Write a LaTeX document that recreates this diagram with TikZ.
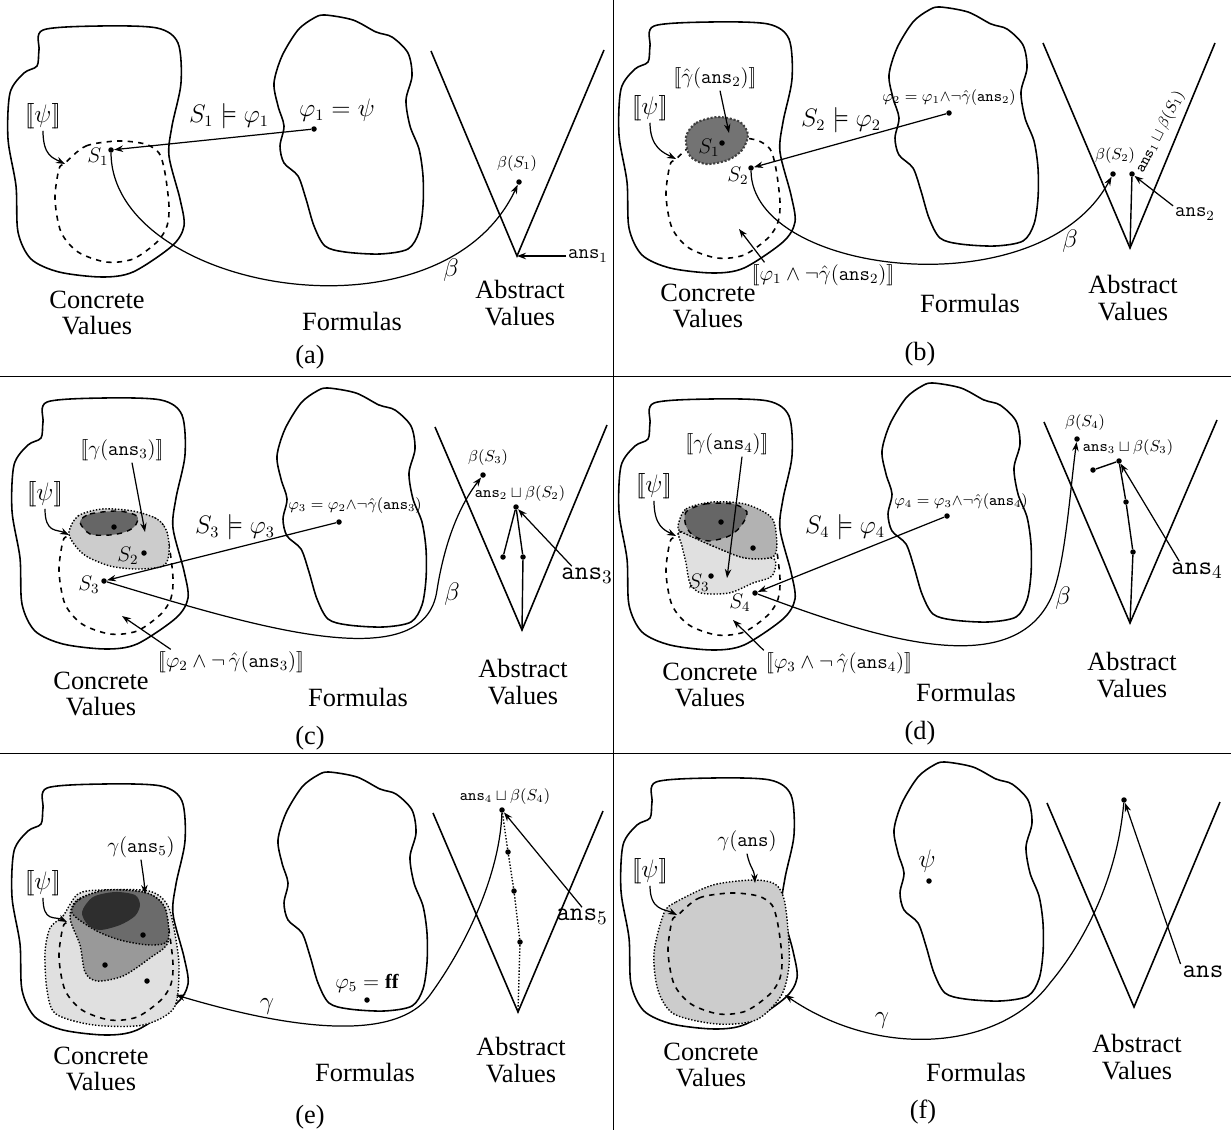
\documentclass[tikz,border=0pt]{standalone}
\usepackage{amsmath}
\usepackage{fontspec}
\setmainfont{Liberation Serif}
\usetikzlibrary{arrows.meta}
\newcommand{\sem}[1]{[\![#1]\!]}
\newcommand{\ans}{\texttt{ans}}
\newcommand{\concreteblob}{plot[smooth cycle] coordinates {(43,30) (100,26) (157,28) (178,43) (181,83) (172,126) (169,156) (180,199) (184,226) (172,246) (133,272) (102,277) (59,272) (31,259) (18,232) (16,186) (8,139) (10,93) (24,73) (37,66) (39,50)}}
\newcommand{\formulablob}{plot[smooth cycle] coordinates {(325,15) (353,20) (376,32) (392,37) (408,53) (412,76) (406,100) (410,126) (419,149) (423,176) (423,206) (419,232) (408,249) (380,254) (345,252) (325,246) (314,226) (306,199) (298,176) (284,163) (280,146) (284,126) (278,106) (274,83) (282,56) (298,30) (314,18)}}
\newcommand{\psiblob}{plot[smooth cycle] coordinates {(65,163) (86,146) (118,141) (145,144) (159,153) (165,173) (169,206) (167,226) (157,242) (133,259) (106,262) (78,252) (61,232) (55,199) (59,169)}}
\begin{document}
\begin{tikzpicture}[x=0.2mm, y=-0.2mm, captext/.style={font=\fontsize{15}{15}\selectfont, align=center},
  biglab/.style={font=\fontsize{13.5}{14}\selectfont, inner sep=1pt}, midlab/.style={font=\fontsize{11.5}{12}\selectfont, inner sep=1pt},
  anslab/.style={font=\fontsize{15}{15}\selectfont, inner sep=1pt}, smalllab/.style={font=\fontsize{9}{10}\selectfont, inner sep=1pt},
  greeklab/.style={font=\fontsize{15}{15}\selectfont, inner sep=1pt}, spot/.style={circle, fill, inner sep=0pt, minimum size=1.1mm},
  outline/.style={line width=0.9pt}, region/.style={draw, densely dotted, line width=0.8pt},
  arr/.style={-{Stealth[length=1.8mm, width=1.3mm]}, line width=0.7pt}]
\useasboundingbox (0,0) rectangle (1231,1130);
\draw[line width=0.5pt] (613,0) -- (613,1130);
\draw[line width=0.5pt] (0,376) -- (1231,376);
\draw[line width=0.5pt] (0,753) -- (1231,753);

\draw[outline] \concreteblob;
\draw[outline, dashed] \psiblob;
\draw[outline] \formulablob;
\coordinate (aL) at (431,51); \coordinate (aB) at (517,256); \coordinate (aR) at (604,50);
\draw[outline] (aL) -- (aB) -- (aR);
\node[biglab] (aPsi) at (43,116) {$\sem{\psi}$};
\coordinate (aPsiTip) at (65,164);
\draw[arr] (aPsi.south) .. controls +(0,25) and +(-12,-6) .. (aPsiTip);
\node[spot] (aS1) at (111,150) {};
\node[midlab] (aS1lab) at (98,157) {$S_1$};
\node[spot] (aP1) at (314,129) {};
\node[biglab] (aP1lab) at (337,110) {$\varphi_1 = \psi$};
\node[biglab] (aSat) at (229,116) {$S_1 \models \varphi_1$};
\draw[arr] (aP1) -- (aS1);
\node[spot] (aBS) at (519,182) {};
\node[smalllab] (aBSlab) at (517,164) {$\beta(S_1)$};
\draw[arr] (aS1) .. controls (112,290) and (440,350) .. (aBS);
\node[greeklab] (aBeta) at (451,270) {$\beta$};
\node[midlab] (aAns) at (588,256) {$\ans_1$};
\draw[arr] (aAns) -- (aB);
\node[captext] (aConc) at (97,313) {Concrete\\Values};
\node[captext] (aForm) at (352,321) {Formulas};
\node[captext] (aAbs) at (520,303) {Abstract\\Values};
\node[captext] (aCap) at (310,357) {(a)};

\begin{scope}[shift={(611,-4)}]
\draw[outline] \concreteblob;
\draw[outline, dashed] \psiblob;
\end{scope}
\begin{scope}[shift={(615,-8)}]
\draw[outline] \formulablob;
\end{scope}
\coordinate (bL) at (1043,43); \coordinate (bB) at (1130,248); \coordinate (bR) at (1215,43);
\draw[outline] (bL) -- (bB) -- (bR);
\filldraw[fill=black!55, draw=black!75, densely dotted, line width=1.2pt] plot[smooth cycle] coordinates {(686,137) (696,123) (718,117) (740,122) (748,135) (742,150) (728,160) (706,164) (690,156)};
\node[midlab] (bGam) at (715,78) {$\sem{\hat\gamma(\ans_2)}$};
\coordinate (bGamTip) at (729,133);
\draw[arr] ([xshift=1mm]bGam.south) -- (bGamTip);
\node[biglab] (bPsi) at (650,108) {$\sem{\psi}$};
\coordinate (bPsiTip) at (676,159);
\draw[arr] (bPsi.south) .. controls +(0,25) and +(-12,-6) .. (bPsiTip);
\node[spot] (bS1) at (722,143) {};
\node[midlab] (bS1lab) at (709,148) {$S_1$};
\node[spot] (bS2) at (751,168) {};
\node[midlab] (bS2lab) at (738,176) {$S_2$};
\node[smalllab] (bP2lab) at (949,98) {$\varphi_2 = \varphi_1{\wedge}\neg\hat\gamma(\ans_2)$};
\node[spot] (bP2) at (949,113) {};
\node[biglab] (bSat) at (841,120) {$S_2 \models \varphi_2$};
\draw[arr] (bP2) -- (bS2);
\node[midlab] (bNeg) at (823,275) {$\sem{\varphi_1 \wedge \neg\hat\gamma(\ans_2)}$};
\coordinate (bNegTip) at (739,229);
\draw[arr] ([xshift=3mm]bNeg.north west) -- (bNegTip);
\node[spot] (bBS) at (1113,174) {};
\node[smalllab] (bBSlab) at (1115,156) {$\beta(S_2)$};
\draw[arr] (bS2) .. controls (752,275) and (1040,310) .. (bBS);
\node[greeklab] (bBeta) at (1070,241) {$\beta$};
\node[spot] (bJoin) at (1132,174) {};
\draw[line width=0.8pt] (bB) -- (bJoin);
\node[smalllab, rotate=63] (bJoinLab) at (1160,132) {$\ans_1 \sqcup \beta(S_1)$};
\node[midlab] (bAns) at (1195,214) {$\ans_2$};
\draw[arr] (bAns.north west) -- (bJoin);
\node[captext] (bConc) at (708,306) {Concrete\\Values};
\node[captext] (bForm) at (970,303) {Formulas};
\node[captext] (bAbs) at (1133,298) {Abstract\\Values};
\node[captext] (bCap) at (920,354) {(b)};

\begin{scope}[shift={(4,372)}]
\draw[outline] \concreteblob;
\draw[outline, dashed] \psiblob;
\end{scope}
\begin{scope}[shift={(3,373)}]
\draw[outline] \formulablob;
\end{scope}
\coordinate (cL) at (435,427); \coordinate (cB) at (522,630); \coordinate (cR) at (607,425);
\draw[outline] (cL) -- (cB) -- (cR);
\filldraw[region, fill=black!20] plot[smooth cycle] coordinates {(69,532) (78,516) (102,509) (133,511) (157,519) (167,532) (169,553) (163,566) (137,569) (110,566) (86,556) (74,544)};
\filldraw[fill=black!60, draw, dashed, line width=0.8pt] plot[smooth cycle] coordinates {(80,522) (90,514) (118,511) (137,516) (135,526) (125,532) (110,535) (90,534)};
\node[spot] (cG1) at (114,527) {};
\node[spot] (cS2) at (144,553) {};
\node[midlab] (cS2lab) at (128,556) {$S_2$};
\node[spot] (cS3) at (104,581) {};
\node[midlab] (cS3lab) at (89,585) {$S_3$};
\node[midlab] (cGam) at (122,450) {$\sem{\gamma(\ans_3)}$};
\coordinate (cGamTip) at (145,532);
\draw[arr] ([xshift=2mm]cGam.south) -- (cGamTip);
\node[biglab] (cPsi) at (45,494) {$\sem{\psi}$};
\coordinate (cPsiTip) at (69,535);
\draw[arr] (cPsi.south) .. controls +(0,25) and +(-12,-6) .. (cPsiTip);
\node[smalllab] (cP3lab) at (355,506) {$\varphi_3 = \varphi_2{\wedge}\neg\hat\gamma(\ans_3)$};
\node[spot] (cP3) at (339,522) {};
\node[biglab] (cSat) at (235,527) {$S_3 \models \varphi_3$};
\draw[arr] (cP3) -- (cS3);
\node[midlab] (cNeg) at (231,662) {$\sem{\varphi_2 \wedge \neg\,\hat\gamma(\ans_3)}$};
\coordinate (cNegTip) at (122,616);
\draw[arr] ([xshift=3mm]cNeg.north west) -- (cNegTip);
\node[spot] (cBS) at (483,475) {};
\node[smalllab] (cBSlab) at (488,458) {$\beta(S_3)$};
\coordinate (cBetaMid) at (437,590);
\draw[arr] (cS3) .. controls (250,625) and (425,680) .. (cBetaMid) .. controls (445,540) and (460,505) .. (cBS);
\node[greeklab] (cBeta) at (452,594) {$\beta$};
\node[spot] (cJoin) at (516,507) {};
\node[smalllab] (cJoinLab) at (520,494) {$\ans_2 \sqcup \beta(S_2)$};
\node[spot] (cD1) at (503,557) {};
\node[spot] (cD2) at (523,557) {};
\draw[line width=0.8pt] (cJoin) -- (cD1);
\draw[line width=0.8pt] (cJoin) -- (cD2) -- (cB);
\node[anslab] (cAns) at (587,576) {$\ans_3$};
\draw[arr] ([xshift=2.5mm]cAns.north west) -- (cJoin);
\node[captext] (cConc) at (101,694) {Concrete\\Values};
\node[captext] (cForm) at (358,697) {Formulas};
\node[captext] (cAbs) at (523,682) {Abstract\\Values};
\node[captext] (cCap) at (310,738) {(c)};

\begin{scope}[shift={(611,373)}]
\draw[outline] \concreteblob;
\draw[outline, dashed] \psiblob;
\end{scope}
\begin{scope}[shift={(608,368)}]
\draw[outline] \formulablob;
\end{scope}
\coordinate (dL) at (1044,422); \coordinate (dB) at (1130,623); \coordinate (dR) at (1217,420);
\draw[outline] (dL) -- (dB) -- (dR);
\filldraw[region, fill=black!12] plot[smooth cycle] coordinates {(680,532) (713,546) (745,558) (774,559) (772,576) (753,583) (729,593) (701,593) (690,583) (686,563) (682,546)};
\filldraw[region, fill=black!30] plot[smooth cycle] coordinates {(678,526) (686,509) (713,502) (745,504) (770,516) (776,532) (774,556) (745,558) (713,546) (682,532)};
\filldraw[fill=black!60, draw, dashed, line width=0.8pt] plot[smooth cycle] coordinates {(686,512) (705,504) (733,504) (747,512) (741,526) (729,536) (709,541) (694,536) (686,526)};
\node[spot] (dG1) at (721,522) {};
\node[spot] (dG2) at (753,548) {};
\node[spot] (dS3) at (711,576) {};
\node[midlab] (dS3lab) at (699,583) {$S_3$};
\node[spot] (dS4) at (755,593) {};
\node[midlab] (dS4lab) at (740,603) {$S_4$};
\node[midlab] (dGam) at (727,444) {$\sem{\gamma(\ans_4)}$};
\coordinate (dGamTip) at (727,578);
\draw[arr] ([xshift=3mm]dGam.south) -- (dGamTip);
\node[biglab] (dPsi) at (654,486) {$\sem{\psi}$};
\coordinate (dPsiTip) at (676,536);
\draw[arr] (dPsi.south) .. controls +(0,25) and +(-12,-6) .. (dPsiTip);
\node[smalllab] (dP4lab) at (961,502) {$\varphi_4 = \varphi_3{\wedge}\neg\hat\gamma(\ans_4)$};
\node[spot] (dP4) at (947,516) {};
\node[biglab] (dSat) at (845,527) {$S_4 \models \varphi_4$};
\draw[arr] (dP4) -- (dS4);
\node[midlab] (dNeg) at (839,663) {$\sem{\varphi_3 \wedge \neg\,\hat\gamma(\ans_4)}$};
\coordinate (dNegTip) at (733,620);
\draw[arr] (dNeg.north west) -- (dNegTip);
\node[spot] (dBS) at (1077,439) {};
\node[smalllab] (dBSlab) at (1085,423) {$\beta(S_4)$};
\coordinate (dBetaMid) at (1050,600);
\draw[arr] (dS4) .. controls (880,640) and (1010,680) .. (dBetaMid) .. controls (1065,570) and (1070,490) .. (dBS);
\node[greeklab] (dBeta) at (1063,598) {$\beta$};
\node[spot] (dJoin) at (1119,461) {};
\node[smalllab] (dJoinLab) at (1128,448) {$\ans_3 \sqcup \beta(S_3)$};
\node[spot] (dLeft) at (1093,470) {};
\node[spot] (dD1) at (1126,502) {};
\node[spot] (dD2) at (1133,552) {};
\draw[line width=0.8pt] (dLeft) -- (dJoin);
\draw[line width=0.8pt] (dB) -- (dD2) -- (dD1) -- (dJoin);
\node[anslab] (dAns) at (1197,571) {$\ans_4$};
\draw[arr] ([xshift=2mm]dAns.north west) -- (dJoin);
\node[captext] (dConc) at (710,685) {Concrete\\Values};
\node[captext] (dForm) at (966,692) {Formulas};
\node[captext] (dAbs) at (1132,675) {Abstract\\Values};
\node[captext] (dCap) at (920,733) {(d)};

\begin{scope}[shift={(4,758)}]
\draw[outline] \concreteblob;
\end{scope}
\begin{scope}[shift={(4,757)}]
\draw[outline] \formulablob;
\end{scope}
\coordinate (eL) at (433,813); \coordinate (eB) at (518,1012); \coordinate (eR) at (603,811);
\draw[outline] (eL) -- (eB) -- (eR);
\filldraw[region, fill=black!12] plot[smooth cycle] coordinates {(50,928) (63,916) (78,894) (102,890) (149,891) (168,906) (176,940) (179,970) (174,1008) (143,1025) (94,1025) (56,1014) (47,990) (45,953)};
\begin{scope}[shift={(4,758)}]
\draw[outline, dashed] \psiblob;
\end{scope}
\filldraw[region, fill=black!40] plot[smooth cycle] coordinates {(70,918) (77,900) (107,890) (147,893) (165,908) (168,942) (150,958) (123,976) (97,981) (85,972) (80,945)};
\filldraw[region, fill=black!58] plot[smooth cycle] coordinates {(72,913) (80,899) (107,890) (147,893) (165,908) (168,940) (150,945) (120,940) (95,930)};
\fill[black!82] plot[smooth cycle] coordinates {(82,912) (93,897) (115,892) (135,895) (140,905) (135,916) (120,925) (100,930) (88,925)};
\node[spot] (eG1) at (143,935) {};
\node[spot] (eG2) at (105,965) {};
\node[spot] (eG3) at (147,981) {};
\node[midlab] (eGam) at (141,847) {$\gamma(\ans_5)$};
\coordinate (eGamTip) at (145,894);
\draw[arr] (eGam.south) .. controls +(2,15) and +(-1,-15) .. (eGamTip);
\node[biglab] (ePsi) at (43,883) {$\sem{\psi}$};
\coordinate (ePsiTip) at (67,922);
\draw[arr] (ePsi.south) .. controls +(0,25) and +(-12,-6) .. (ePsiTip);
\node[midlab] (eP5lab) at (367,983) {$\varphi_5 = \mathbf{ff}$};
\node[spot] (eP5) at (367,1000) {};
\node[spot] (eJoin) at (502,810) {};
\node[smalllab] (eJoinLab) at (505,797) {$\ans_4 \sqcup \beta(S_4)$};
\node[spot] (eD1) at (508,852) {};
\node[spot] (eD2) at (514,891) {};
\node[spot] (eD3) at (520,942) {};
\draw[densely dotted, line width=0.8pt] (eJoin) -- (eD1) -- (eD2) -- (eD3) -- (eB);
\node[anslab] (eAns) at (582,917) {$\ans_5$};
\draw[arr] (eAns.north) -- (eJoin);
\coordinate (eGamMid) at (430,995);
\coordinate (eGamEnd) at (176,995);
\draw[arr] (eJoin) .. controls (500,870) and (470,940) .. (eGamMid) .. controls (390,1050) and (260,1020) .. (eGamEnd);
\node[greeklab] (eGamma) at (267,1007) {$\gamma$};
\node[captext] (eConc) at (101,1069) {Concrete\\Values};
\node[captext] (eForm) at (365,1072) {Formulas};
\node[captext] (eAbs) at (521,1060) {Abstract\\Values};
\node[captext] (eCap) at (310,1117) {(e)};

\begin{scope}[shift={(613,752)}]
\draw[outline] \concreteblob;
\end{scope}
\begin{scope}[shift={(620,747)}]
\draw[outline] \formulablob;
\end{scope}
\coordinate (fL) at (1047,803); \coordinate (fB) at (1134,1007); \coordinate (fR) at (1220,802);
\draw[outline] (fL) -- (fB) -- (fR);
\filldraw[region, fill=black!20] plot[smooth cycle] coordinates {(664,913) (676,902) (713,885) (753,880) (775,884) (784,899) (788,930) (789,966) (781,996) (756,1020) (717,1024) (674,1014) (658,990) (654,953)};
\begin{scope}[shift={(613,752)}]
\draw[outline, dashed] \psiblob;
\end{scope}
\node[midlab] (fGam) at (747,841) {$\gamma(\ans)$};
\coordinate (fGamTip) at (755,883);
\draw[arr] (fGam.south) .. controls +(3,15) and +(-1,-15) .. (fGamTip);
\node[biglab] (fPsi) at (650,871) {$\sem{\psi}$};
\coordinate (fPsiTip) at (677,915);
\draw[arr] (fPsi.south) .. controls +(0,25) and +(-12,-6) .. (fPsiTip);
\node[biglab] (fPsiF) at (927,861) {$\psi$};
\node[spot] (fPsiDot) at (929,881) {};
\node[spot] (fTop) at (1124,800) {};
\node[anslab] (fAns) at (1203,972) {$\ans$};
\draw[arr] (fAns.north west) -- (fTop);
\coordinate (fGamMid) at (1050,983);
\coordinate (fGamEnd) at (785,995);
\draw[arr] (fTop) .. controls (1118,870) and (1090,935) .. (fGamMid) .. controls (1000,1050) and (880,1060) .. (fGamEnd);
\node[greeklab] (fGamma) at (882,1021) {$\gamma$};
\node[captext] (fConc) at (711,1065) {Concrete\\Values};
\node[captext] (fForm) at (976,1072) {Formulas};
\node[captext] (fAbs) at (1137,1057) {Abstract\\Values};
\node[captext] (fCap) at (923,1112) {(f)};
\end{tikzpicture}
\end{document}
